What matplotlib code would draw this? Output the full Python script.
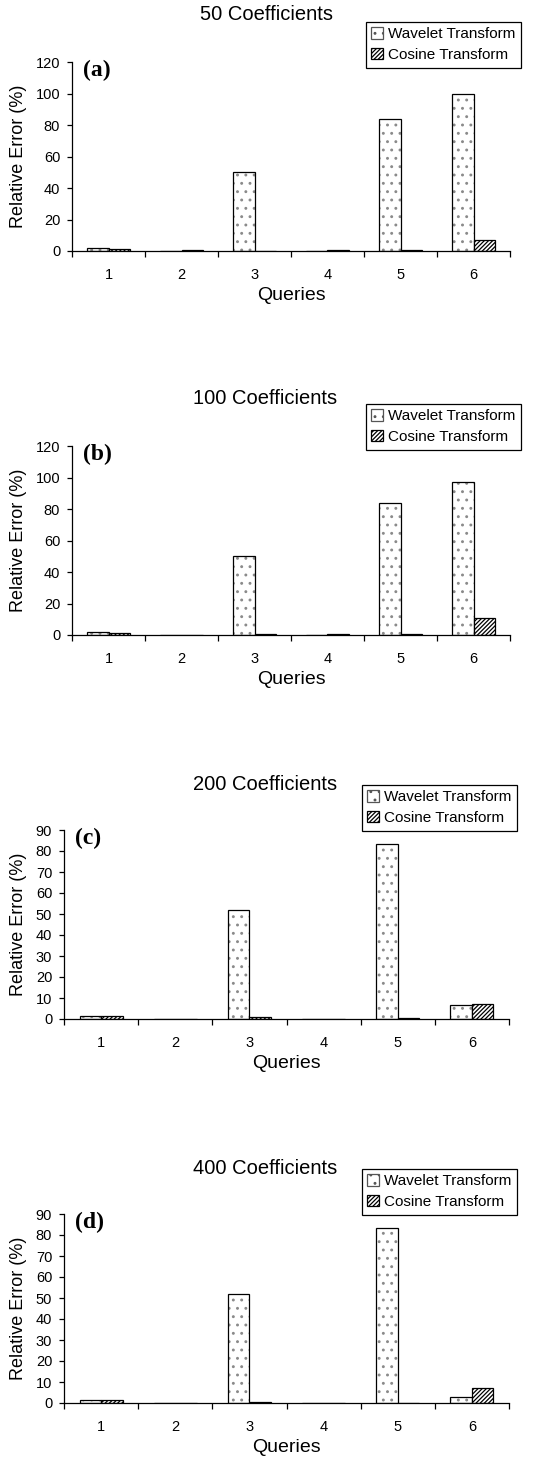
import numpy as np
import matplotlib
matplotlib.use("Agg")
import matplotlib.pyplot as plt

queries = [1, 2, 3, 4, 5, 6]
titles = ["50 Coefficients", "100 Coefficients", "200 Coefficients", "400 Coefficients"]
panel_tags = ["(a)", "(b)", "(c)", "(d)"]

wavelet_50 = [2.0, 0.0, 50.0, 0.0, 83.5, 100.0]
cosine_50 = [1.5, 0.5, 0.0, 0.5, 0.5, 7.0]
wavelet_100 = [2.0, 0.0, 50.0, 0.0, 83.5, 97.0]
cosine_100 = [1.5, 0.0, 0.5, 0.5, 0.5, 11.0]
wavelet_200 = [1.5, 0.0, 52.0, 0.0, 83.5, 6.5]
cosine_200 = [1.5, 0.0, 1.0, 0.0, 0.3, 7.0]
wavelet_400 = [1.5, 0.0, 52.0, 0.0, 83.5, 3.0]
cosine_400 = [1.5, 0.0, 0.5, 0.0, 0.0, 7.0]

ymax = [120, 120, 90, 90]
ystep = [20, 20, 10, 10]

plt.rcParams["font.family"] = ["Liberation Sans", "DejaVu Sans"]
plt.rcParams["hatch.linewidth"] = 0.9

W, H = 540, 1465
fig = plt.figure(figsize=(W / 100, H / 100), dpi=100)

# pixel boxes (x0, y0, x1, y1) of each plot area, legend corner, title centre
ax_px = [(72, 62, 510, 251), (72, 446, 510, 635), (64, 830, 509, 1019), (64, 1214, 509, 1403)]
leg_px = [(366, 22), (366, 404), (362, 785), (362, 1169)]
title_px = [(267, 15), (265, 399), (265, 784), (265, 1168)]

series = [(wavelet_50, cosine_50), (wavelet_100, cosine_100),
          (wavelet_200, cosine_200), (wavelet_400, cosine_400)]

bw = 0.29
x = np.array(queries, dtype=float)
for i, (wav, cos) in enumerate(series):
    x0, y0, x1, y1 = ax_px[i]
    ax = fig.add_axes([x0 / W, 1 - y1 / H, (x1 - x0) / W, (y1 - y0) / H])
    # grey dots underneath, black outline on top
    ax.bar(x - bw / 2, wav, bw, color="white", edgecolor="#8a8a8a", linewidth=0,
           hatch="..")
    ax.bar(x - bw / 2, wav, bw, fill=False, edgecolor="black", linewidth=0.9)
    ax.bar(x + bw / 2, cos, bw, color="white", edgecolor="black", linewidth=0.9,
           hatch="////////")
    # legend proxies
    ax.bar([0], [0], color="white", edgecolor="#555555", linewidth=0.9, hatch="..",
           label="Wavelet Transform")
    ax.bar([0], [0], color="white", edgecolor="black", linewidth=0.9, hatch="////////",
           label="Cosine Transform")
    ax.set_xlim(0.5, 6.5)
    ax.set_ylim(0, ymax[i])
    ax.set_yticks(np.arange(0, ymax[i] + 1, ystep[i]))
    # category boundaries get tick marks, labels sit in between
    ax.set_xticks(np.arange(0.5, 7, 1))
    ax.set_xticklabels([])
    ax.set_xticks(x, minor=True)
    ax.set_xticklabels([str(q) for q in queries], minor=True)
    ax.tick_params(axis="x", which="major", direction="out", length=4.5, width=0.9)
    ax.tick_params(axis="x", which="minor", length=0, pad=12, labelsize=10.5)
    ax.tick_params(axis="y", direction="out", length=3.5, width=0.9, pad=5, labelsize=10.5)
    for s in ["top", "right"]:
        ax.spines[s].set_visible(False)
    for s in ["left", "bottom"]:
        ax.spines[s].set_linewidth(0.9)
    ax.set_xlabel("Queries", fontsize=14, labelpad=4)
    ax.set_ylabel("Relative Error (%)", fontsize=13, labelpad=6)
    ax.text(0.024, 0.955, panel_tags[i], transform=ax.transAxes, ha="left", va="center",
            fontsize=17, fontweight="bold", family=["Liberation Serif", "DejaVu Serif"])
    lx, ly = leg_px[i]
    leg = ax.legend(loc="upper left", bbox_to_anchor=(lx / W, 1 - ly / H),
                    bbox_transform=fig.transFigure, borderaxespad=0, fontsize=11,
                    frameon=True, fancybox=False, framealpha=1, edgecolor="black",
                    handlelength=0.75, handleheight=0.75, handletextpad=0.35,
                    labelspacing=0.45, borderpad=0.35)
    leg.get_frame().set_linewidth(0.9)
    tx, ty = title_px[i]
    fig.text(tx / W, 1 - ty / H, titles[i], ha="center", va="center", fontsize=14.5)

fig.savefig("out.png", dpi=100)
